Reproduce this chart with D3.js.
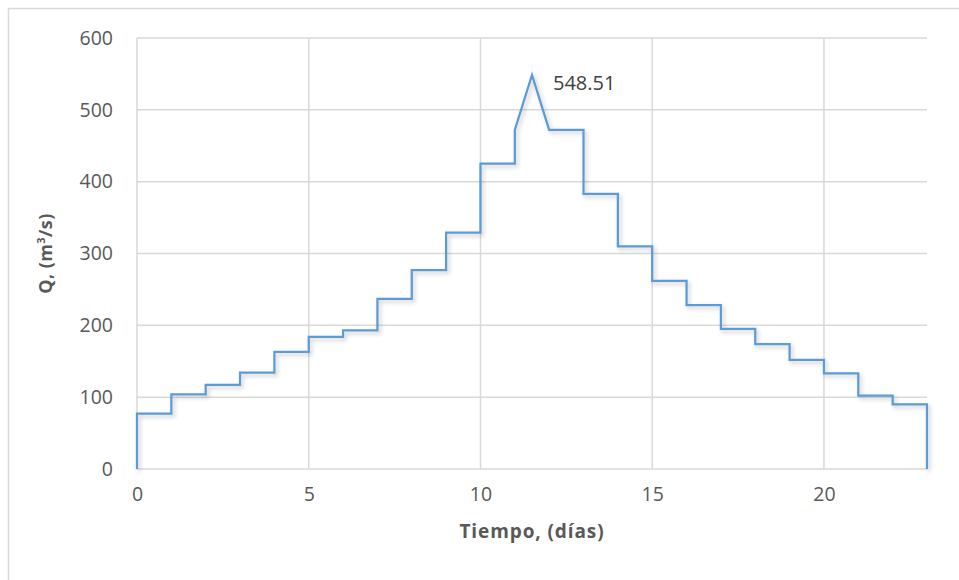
<!DOCTYPE html>
<html>
<head>
<meta charset="utf-8">
<script src="https://cdn.jsdelivr.net/npm/d3@7"></script>
<style>
  html, body { margin: 0; padding: 0; background: #fff; }
  svg { display: block; }
</style>
</head>
<body>
<svg id="chart" width="959" height="580"></svg>
<script>
// Hydrograph vertices (tiempo in días, caudal in m³/s)
const tiempo = [0,0,1,1,2,2,3,3,4,4,5,5,6,6,7,7,8,8,9,9,10,10,11,11,11.5,12,13,13,14,14,15,15,16,16,17,17,18,18,19,19,20,20,21,21,22,22,23,23];
const caudal = [0,77,77,104,104,117,117,134,134,163,163,184,184,193,193,237,237,277,277,329,329,425,425,472,548.51,472,472,383,383,310,310,262,262,228,228,195,195,174,174,152,152,133,133,102,102,90,90,0];
const xTicks = [0,5,10,15,20];
const yTicks = [0,100,200,300,400,500,600];
const peakLabel = "548.51";
const xTitle = "Tiempo, (días)";

const svg = d3.select("#chart");
const W = 959, H = 580;
const m = {left: 137, right: 959 - 927, top: 38, bottom: 580 - 469};

// outer frame
svg.append("rect").attr("x", 8.5).attr("y", 8.5).attr("width", 980).attr("height", 600)
  .attr("fill", "#fff").attr("stroke", "#d9d9d9").attr("stroke-width", 1.5);

const x = d3.scaleLinear().domain([0, 23]).range([m.left, W - m.right]);
const y = d3.scaleLinear().domain([0, 600]).range([H - m.bottom, m.top]);

const defs = svg.append("defs");
const f = defs.append("filter").attr("id", "sh").attr("x", "-10%").attr("y", "-10%").attr("width", "130%").attr("height", "130%");
f.append("feDropShadow").attr("dx", 2).attr("dy", 2.5).attr("stdDeviation", 2)
  .attr("flood-color", "#000").attr("flood-opacity", 0.22);

const font = "'Open Sans', 'DejaVu Sans', sans-serif";

// gridlines
const g = svg.append("g");
g.selectAll("line.h").data(yTicks).join("line")
  .attr("x1", x(0)).attr("x2", x(23))
  .attr("y1", d => y(d)).attr("y2", d => y(d))
  .attr("stroke", "#d9d9d9").attr("stroke-width", 1.5);
g.selectAll("line.v").data(xTicks).join("line")
  .attr("x1", d => x(d)).attr("x2", d => x(d))
  .attr("y1", y(0)).attr("y2", y(600))
  .attr("stroke", "#d9d9d9").attr("stroke-width", 1.5);

// y axis labels
const yAxis = d3.axisLeft(y).tickValues(yTicks).tickSize(0).tickPadding(24);
svg.append("g").attr("transform", `translate(${x(0)},0)`).call(yAxis)
  .call(s => s.select(".domain").remove())
  .selectAll("text").attr("font-family", font).attr("font-size", 19.5).attr("fill", "#595959");

// x axis labels
const xAxis = d3.axisBottom(x).tickValues(xTicks).tickSize(0).tickPadding(18);
svg.append("g").attr("transform", `translate(0,${y(0)})`).call(xAxis)
  .call(s => s.select(".domain").remove())
  .selectAll("text").attr("font-family", font).attr("font-size", 19.5).attr("fill", "#595959");

// line
const pts = tiempo.map((t, i) => [t, caudal[i]]);
const line = d3.line().x(d => x(d[0])).y(d => y(d[1]));
svg.append("path").datum(pts).attr("d", line)
  .attr("fill", "none").attr("stroke", "#5b9bd5").attr("stroke-width", 2.25)
  .attr("stroke-linejoin", "miter").attr("filter", "url(#sh)");

// peak label
const iPeak = d3.maxIndex(caudal);
svg.append("text").attr("x", x(tiempo[iPeak]) + 21).attr("y", y(caudal[iPeak]) + 15)
  .attr("font-family", font).attr("font-size", 20).attr("fill", "#404040").text(peakLabel);

// axis titles
svg.append("text").attr("x", (x(0) + x(23)) / 2).attr("y", 538)
  .attr("text-anchor", "middle").attr("font-family", font).attr("font-weight", "bold")
  .attr("font-size", 19).attr("letter-spacing", 0.9).attr("fill", "#595959").text(xTitle);

const yt = svg.append("text").attr("transform", `translate(52,${(y(0) + y(600)) / 2}) rotate(-90)`)
  .attr("text-anchor", "middle").attr("font-family", font).attr("font-weight", "bold")
  .attr("font-size", 18).attr("letter-spacing", 0.4).attr("fill", "#595959");
yt.append("tspan").text("Q, (m");
yt.append("tspan").attr("font-size", 11).attr("dy", -7).text("3");
yt.append("tspan").attr("dy", 7).text("/s)");
</script>
</body>
</html>
